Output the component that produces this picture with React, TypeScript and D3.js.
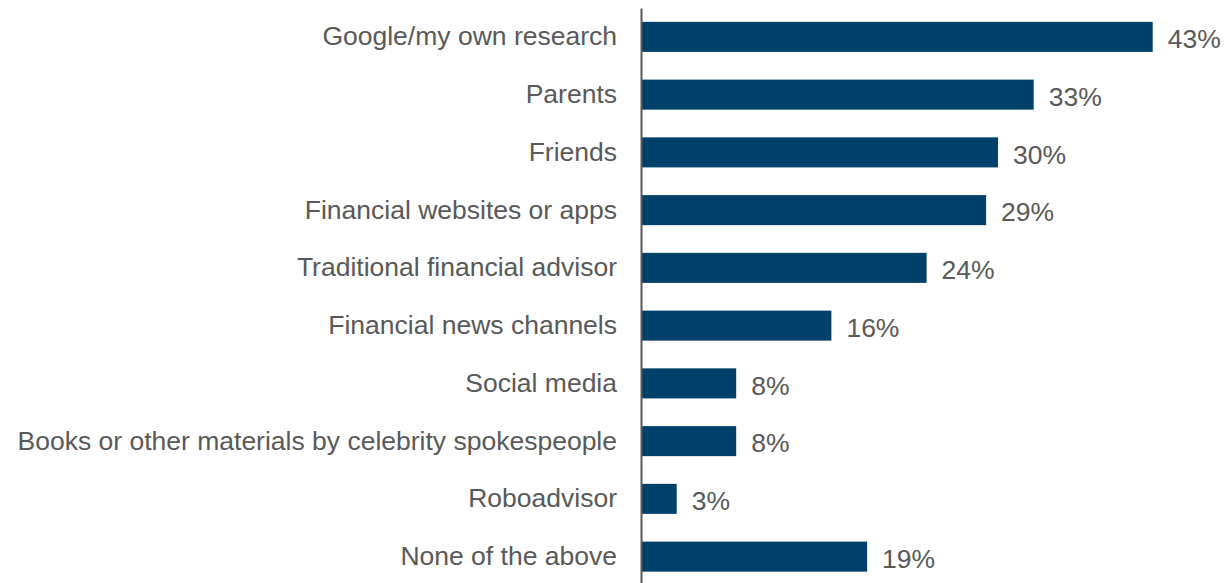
import React, { useEffect, useRef } from 'react';
import * as d3 from 'd3';

// Sources of financial information (% of respondents)
const categories = [
  'Google/my own research',
  'Parents',
  'Friends',
  'Financial websites or apps',
  'Traditional financial advisor',
  'Financial news channels',
  'Social media',
  'Books or other materials by celebrity spokespeople',
  'Roboadvisor',
  'None of the above',
];
const values = [43, 33, 30, 29, 24, 16, 8, 8, 3, 19];

const App: React.FC = () => {
  const svgRef = useRef<SVGSVGElement>(null);

  useEffect(() => {
    if (!svgRef.current) return;

    const width = 1230;
    const height = 583;
    const axisX = 641;
    const font = '"Liberation Sans", Arial, sans-serif';
    const textColor = '#595959';

    const svg = d3.select(svgRef.current);
    svg.selectAll('*').remove();

    const x = d3.scaleLinear()
      .domain([0, 50])
      .range([axisX, axisX + 595]);

    const y = d3.scaleBand<string>()
      .domain(categories)
      .range([8, 585.5])
      .paddingInner(0.48)
      .paddingOuter(0.24);

    const data = categories.map((c, i) => ({ c, v: values[i] }));

    // Bars
    svg.selectAll('rect.bar')
      .data(data)
      .join('rect')
      .attr('class', 'bar')
      .attr('x', x(0))
      .attr('y', d => y(d.c) || 0)
      .attr('width', d => x(d.v) - x(0))
      .attr('height', y.bandwidth())
      .attr('fill', '#00416b');

    // Value labels
    svg.selectAll('text.val')
      .data(data)
      .join('text')
      .attr('class', 'val')
      .attr('x', d => x(d.v) + 15)
      .attr('y', d => (y(d.c) || 0) + y.bandwidth() / 2 + 2)
      .attr('dy', '0.35em')
      .style('font-family', font)
      .style('font-size', '26.5px')
      .style('fill', textColor)
      .text(d => `${d.v}%`);

    // Category axis
    const axis = svg.append('g')
      .attr('transform', `translate(${axisX},0)`)
      .call(d3.axisLeft(y).tickSize(0).tickPadding(24));
    axis.select('.domain')
      .attr('stroke', textColor)
      .attr('stroke-width', 2);
    axis.selectAll('text')
      .style('font-family', font)
      .style('font-size', '26.5px')
      .style('fill', textColor);
  }, []);

  return (
    <div style={{ position: 'absolute', left: 0, top: 0 }}>
      <svg ref={svgRef} width={1230} height={583} style={{ display: 'block', background: '#fff' }} />
    </div>
  );
};

export default App;
